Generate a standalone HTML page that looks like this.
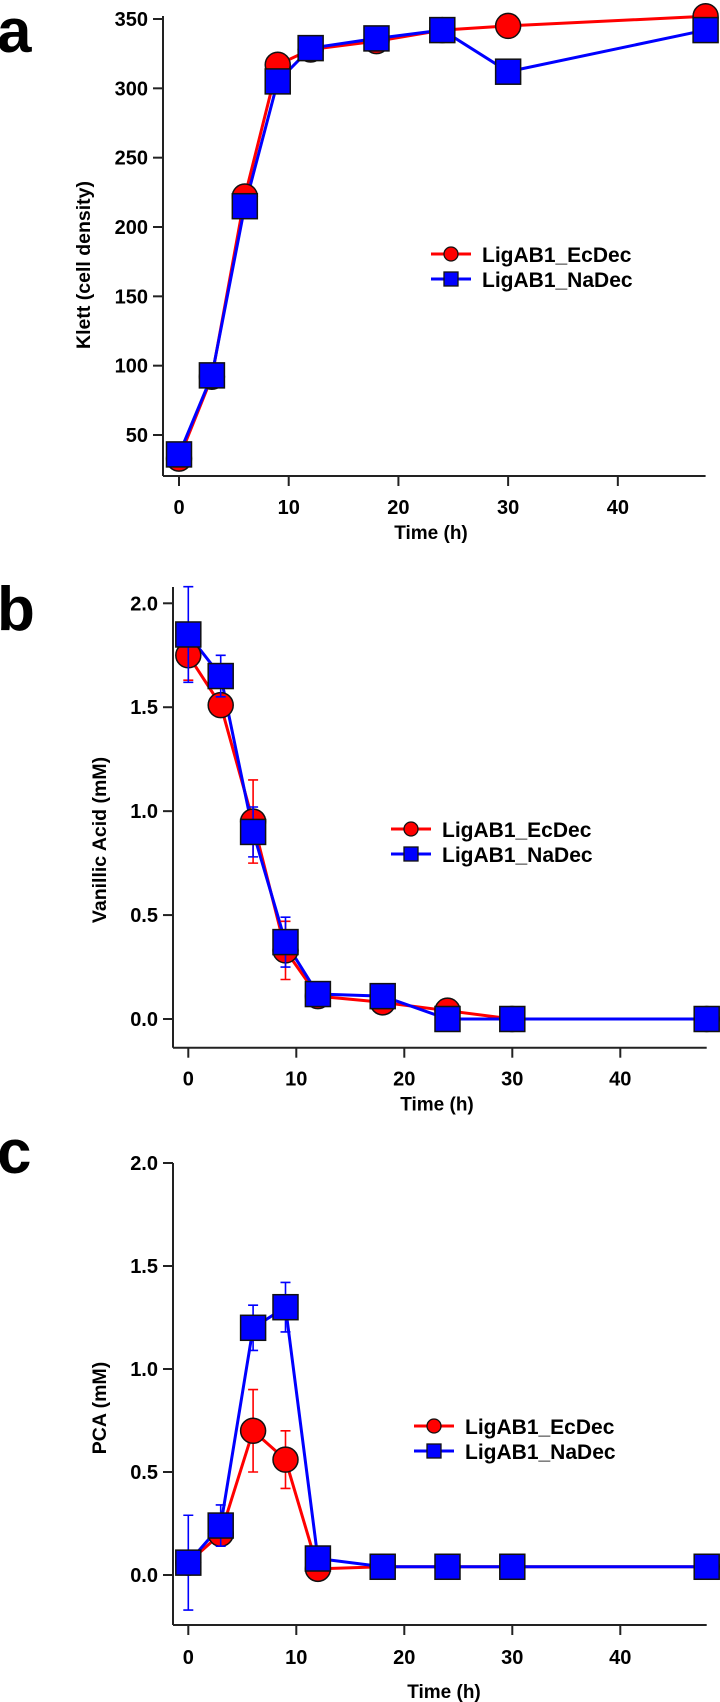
<!DOCTYPE html>
<html><head><meta charset="utf-8"><style>
html,body{margin:0;padding:0;background:#fff;}
svg{display:block;font-family:"Liberation Sans",Arial,sans-serif;font-weight:bold;}
</style></head><body>
<svg id="chart" width="720" height="1702" viewBox="0 0 720 1702" xmlns="http://www.w3.org/2000/svg"></svg>
<script>
const times = [0,3,6,9,12,18,24,30,48];
const klettEc = [33,92,222,317,328,334,342,345,352];
const klettNa = [36,93,215,305,329,336,342,312,342];
const vanEc = [1.75,1.51,0.95,0.33,0.11,0.08,0.04,0.0,0.0];
const vanNa = [1.85,1.65,0.90,0.37,0.12,0.11,0.0,0.0,0.0];
const vanEcErr = [0.12,0.04,0.2,0.14,0.02,0.02,0.02,0,0];
const vanNaErr = [0.23,0.1,0.12,0.12,0.02,0.02,0,0,0];
const pcaEc = [0.06,0.2,0.70,0.56,0.03,0.04,0.04,0.04,0.04];
const pcaNa = [0.06,0.24,1.2,1.3,0.08,0.04,0.04,0.04,0.04];
const pcaEcErr = [0.05,0.05,0.2,0.14,0.02,0,0,0,0];
const pcaNaErr = [0.23,0.1,0.11,0.12,0.02,0,0,0,0];
const xTicks = [0,10,20,30,40];
const klettTicks = [50,100,150,200,250,300,350];
const concTicks = [0.0,0.5,1.0,1.5,2.0];
const legendNames = ["LigAB1_EcDec","LigAB1_NaDec"];

const NS="http://www.w3.org/2000/svg";
const svg=document.getElementById('chart');
function mk(tag,attrs,parent){const e=document.createElementNS(NS,tag);for(const k in attrs)e.setAttribute(k,attrs[k]);(parent||svg).appendChild(e);return e;}

function panel(cfg){
  const g=mk('g',{});
  
  
  const X=t=>cfg.x0+(t-0)*(cfg.x48-cfg.x0)/48;
  const Y=v=>cfg.yA+(v-cfg.vA)*(cfg.yB-cfg.yA)/(cfg.vB-cfg.vA);
  const ax=mk('line',{x1:cfg.axX,y1:cfg.axTop,x2:cfg.axX,y2:cfg.axBot,stroke:'#222','stroke-width':2},g);
  
  
  const bx=mk('line',{x1:cfg.axX,y1:cfg.axBot,x2:cfg.x48,y2:cfg.axBot,stroke:'#222','stroke-width':2},g);
  
  
  cfg.yTicks.forEach(v=>{
    mk('line',{x1:cfg.axX-10,y1:Y(v),x2:cfg.axX,y2:Y(v),stroke:'#222','stroke-width':2},g);
    const t=mk('text',{x:cfg.axX-15,y:Y(v)+7,'text-anchor':'end','font-size':20},g);
    
    
    t.textContent=cfg.fmt(v);
  });
  xTicks.forEach(v=>{
    mk('line',{x1:X(v),y1:cfg.axBot,x2:X(v),y2:cfg.axBot+10,stroke:'#222','stroke-width':2},g);
    const t=mk('text',{x:X(v),y:cfg.axBot+cfg.tlOff,'text-anchor':'middle','font-size':20},g);
    
    
    t.textContent=v;
  });
  const xt=mk('text',{x:cfg.xtX,y:cfg.axBot+cfg.xtOff,'text-anchor':'middle','font-size':19},g);
  
  
  xt.textContent='Time (h)';
  const yt=mk('text',{x:0,y:0,'text-anchor':'middle','font-size':19.5,transform:`translate(${cfg.ytX},${cfg.ytY}) rotate(-90)`},g);
  
  
  yt.textContent=cfg.ytitle;
  const pl=mk('text',{x:-3,y:cfg.letterY,'font-size':62},g);
  
  
  pl.textContent=cfg.letter;
  const series=[{d:cfg.ec,e:cfg.ecErr,c:'#f00',shape:'circle',n:'ecdec'},{d:cfg.na,e:cfg.naErr,c:'#00f',shape:'square',n:'nadec'}];
  series.forEach(s=>{
    const pts=times.map((t,i)=>X(t)+','+Y(s.d[i])).join(' ');
    const ln=mk('polyline',{points:pts,fill:'none',stroke:s.c,'stroke-width':3},g);
    
    
  });
  series.forEach(s=>{
    times.forEach((t,i)=>{
      const x=X(t),y=Y(s.d[i]);
      if(s.e&&s.e[i]>0){
        const y1=Y(s.d[i]+s.e[i]),y2=Y(s.d[i]-s.e[i]);
        const eb=mk('path',{d:`M${x},${y1}V${y2}M${x-5},${y1}H${x+5}M${x-5},${y2}H${x+5}`,stroke:s.c,'stroke-width':1.6,fill:'none'},g);
        
        
      }
      let m;
      if(s.shape==='circle') m=mk('circle',{cx:x,cy:y,r:12.5,fill:s.c,stroke:'#111','stroke-width':1.5},g);
      else m=mk('rect',{x:x-12.5,y:y-12.5,width:25,height:25,fill:s.c,stroke:'#111','stroke-width':1.5},g);
      
      
    });
  });
  legendNames.forEach((nm,i)=>{
    const ly=cfg.legY+i*25, lx=cfg.legX;
    const c=i===0?'#f00':'#00f';
    const le=mk('g',{},g);
    
    
    mk('line',{x1:lx,y1:ly,x2:lx+40,y2:ly,stroke:c,'stroke-width':3},le);
    if(i===0) mk('circle',{cx:lx+20,cy:ly,r:7,fill:c,stroke:'#111','stroke-width':1.3},le);
    else mk('rect',{x:lx+13,y:ly-7,width:14,height:14,fill:c,stroke:'#111','stroke-width':1.3},le);
    const t=mk('text',{x:lx+51,y:ly+8,'font-size':21},le);
    t.textContent=nm;
  });
}

panel({name:'panel-a-klett',letter:'a',letterY:52,x0:179,x48:705.6,yA:19,vA:350,yB:435,vB:50,axX:163,axTop:16,axBot:476,
  yTicks:klettTicks,fmt:v=>String(v),ec:klettEc,na:klettNa,ecErr:null,naErr:null,
  tlOff:38,xtX:431,xtOff:63,ytX:90,ytY:265,ytitle:'Klett (cell density)',legX:431,legY:254});
panel({name:'panel-b-vanillic',letter:'b',letterY:630,x0:188.3,x48:706.7,yA:1019,vA:0,yB:603.3,vB:2,axX:173,axTop:587,axBot:1047.7,
  yTicks:concTicks,fmt:v=>v.toFixed(1),ec:vanEc,na:vanNa,ecErr:vanEcErr,naErr:vanNaErr,
  tlOff:38,xtX:437,xtOff:63,ytX:106,ytY:840,ytitle:'Vanillic Acid (mM)',legX:391,legY:829});
panel({name:'panel-c-pca',letter:'c',letterY:1173,x0:188.3,x48:706.7,yA:1575,vA:0,yB:1163,vB:2,axX:173,axTop:1163,axBot:1625,
  yTicks:concTicks,fmt:v=>v.toFixed(1),ec:pcaEc,na:pcaNa,ecErr:pcaEcErr,naErr:pcaNaErr,
  tlOff:39,xtX:444,xtOff:73,ytX:106,ytY:1408,ytitle:'PCA (mM)',legX:414,legY:1426});
</script>
</body></html>
